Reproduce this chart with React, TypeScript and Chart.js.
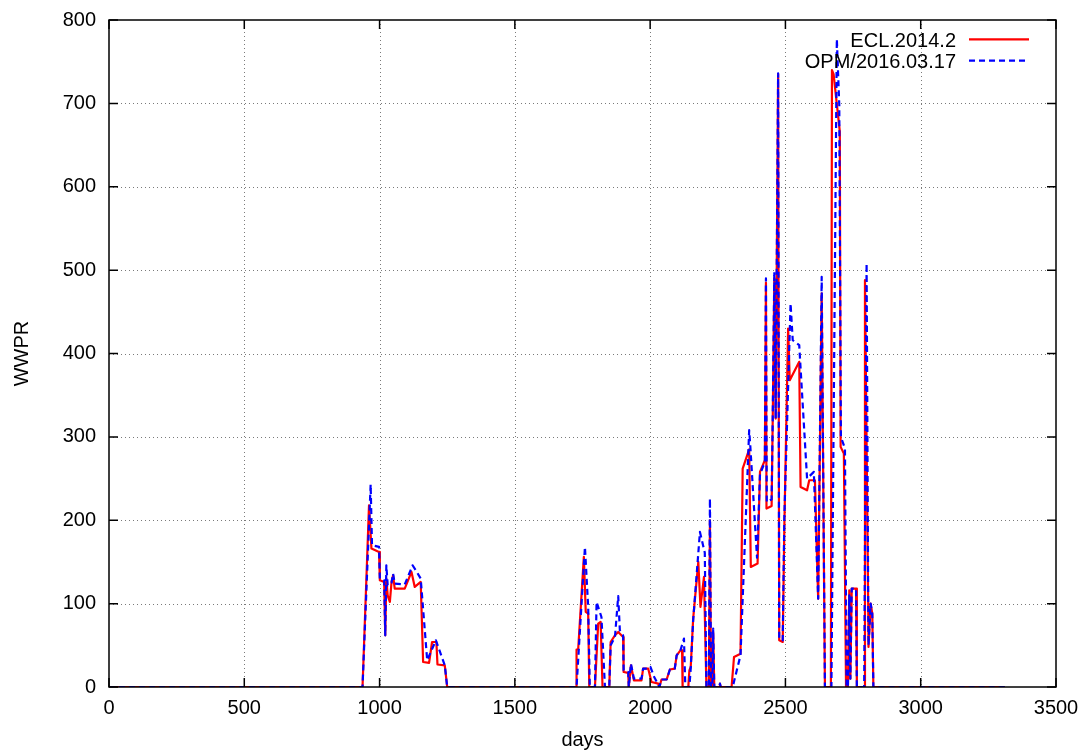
import React, { useEffect, useRef } from 'react';
import { Chart, registerables } from 'chart.js';

Chart.register(...registerables);

// ---- data ----
const seriesLabels = ['ECL.2014.2', 'OPM/2016.03.17'];

const eclDays = [
  0, 937, 961, 970, 998, 1001, 1017, 1021, 1025, 1030, 1038, 1044, 1050, 1056, 1093, 1118, 1130, 1152, 1161, 1183,
  1194, 1210, 1214, 1241, 1250, 1726, 1728, 1734, 1755, 1762, 1771, 1775, 1796, 1808, 1817, 1824, 1849, 1854, 1870,
  1882, 1900, 1902, 1919, 1921, 1929, 1940, 1968, 1974, 1993, 2005, 2030, 2034, 2042, 2061, 2073, 2091, 2098, 2112,
  2118, 2120, 2141, 2145, 2150, 2159, 2178, 2186, 2199, 2208, 2217, 2221, 2225, 2230, 2233, 2237, 2255, 2258, 2261,
  2301, 2310, 2334, 2342, 2366, 2372, 2397, 2406, 2424, 2428, 2430, 2449, 2453, 2459, 2464, 2473, 2477, 2490, 2496,
  2510, 2516, 2551, 2556, 2580, 2588, 2609, 2621, 2634, 2646, 2668, 2672, 2678, 2701, 2704, 2716, 2724, 2731, 2736,
  2740, 2745, 2761, 2764, 2791, 2794, 2806, 2807, 2815, 2821, 2825, 3311,
];
const eclValues = [
  0, 0, 218, 166, 162, 128, 126, 62, 130, 110, 102, 125, 134, 118, 118, 138, 120, 126, 30, 29,
  54, 54, 27, 26, 0, 0, 45, 45, 156, 90, 88, 0, 0, 76, 78, 0, 0, 54, 62,
  66, 60, 18, 17, 0, 26, 8, 8, 22, 22, 6, 4, 0, 9, 9, 21, 22, 38, 44,
  44, 0, 0, 20, 24, 82, 150, 96, 132, 0, 0, 200, 0, 0, 66, 0, 0, 4, 0,
  0, 36, 40, 262, 285, 144, 148, 258, 272, 485, 214, 217, 320, 490, 322, 735, 56, 54, 192,
  430, 368, 390, 240, 236, 248, 248, 106, 472, 0, 0, 740, 735, 666, 288, 280, 0, 0, 116,
  10, 118, 118, 0, 0, 488, 96, 48, 100, 88, 0, 0,
];

const opmDays = [
  0, 937, 967, 972, 998, 1001, 1017, 1021, 1025, 1030, 1044, 1050, 1056, 1093, 1122, 1134, 1152, 1176, 1208, 1241,
  1250, 1728, 1759, 1771, 1777, 1796, 1802, 1820, 1833, 1849, 1854, 1870, 1882, 1888, 1900, 1902, 1919, 1921, 1929,
  1940, 1968, 1974, 1993, 2001, 2015, 2034, 2042, 2061, 2073, 2091, 2098, 2112, 2125, 2130, 2145, 2150, 2159, 2184,
  2202, 2208, 2217, 2221, 2225, 2230, 2233, 2237, 2255, 2258, 2261, 2305, 2334, 2366, 2370, 2395, 2406, 2424, 2428,
  2431, 2449, 2453, 2459, 2464, 2473, 2477, 2490, 2496, 2519, 2527, 2551, 2580, 2605, 2621, 2634, 2646, 2670, 2690,
  2699, 2705, 2720, 2726, 2731, 2736, 2740, 2745, 2761, 2764, 2791, 2800, 2806, 2807, 2815, 2821, 2825, 3311,
];
const opmValues = [
  0, 0, 243, 170, 168, 130, 128, 62, 146, 122, 125, 136, 124, 123, 146, 140, 130, 32, 56, 26,
  0, 0, 168, 96, 0, 0, 102, 84, 0, 0, 50, 60, 109, 68, 62, 20, 18, 0, 28,
  10, 10, 22, 22, 24, 12, 0, 9, 9, 21, 22, 38, 44, 58, 0, 0, 22, 80, 186,
  161, 0, 0, 226, 0, 0, 70, 0, 0, 4, 0, 0, 38, 308, 290, 155, 255, 270, 490,
  222, 225, 320, 498, 322, 736, 58, 56, 204, 460, 416, 410, 250, 258, 106, 492, 0, 0, 777,
  698, 300, 286, 0, 0, 110, 10, 118, 118, 0, 0, 508, 96, 50, 100, 88, 0, 0,
];

const xTicks = [0, 500, 1000, 1500, 2000, 2500, 3000, 3500];
const yTicks = [0, 100, 200, 300, 400, 500, 600, 700, 800];

const FONT = '"Liberation Sans", Arial, Helvetica, sans-serif';

export default function App() {
  const ref = useRef<HTMLCanvasElement>(null);

  useEffect(() => {
    const canvas = ref.current;
    if (!canvas) return;

    const frame = {
      id: 'gnuplotFrame',
      beforeDatasetsDraw(chart: any) {
        const { ctx, chartArea: a, scales } = chart;
        const xs = scales.x;
        const ys = scales.y;
        ctx.save();
        ctx.strokeStyle = '#7a7a7a';
        ctx.lineWidth = 1;
        ctx.setLineDash([1, 3]);
        for (const t of xTicks) {
          if (t === xTicks[0] || t === xTicks[xTicks.length - 1]) continue;
          const px = Math.round(xs.getPixelForValue(t)) + 0.5;
          ctx.beginPath();
          ctx.moveTo(px, a.top);
          ctx.lineTo(px, a.bottom);
          ctx.stroke();
        }
        for (const t of yTicks) {
          if (t === yTicks[0] || t === yTicks[yTicks.length - 1]) continue;
          const py = Math.round(ys.getPixelForValue(t)) + 0.5;
          ctx.beginPath();
          ctx.moveTo(a.left, py);
          ctx.lineTo(a.right, py);
          ctx.stroke();
        }
        ctx.restore();
      },
      afterDatasetsDraw(chart: any) {
        const { ctx, chartArea: a, scales } = chart;
        const xs = scales.x;
        const ys = scales.y;
        ctx.save();
        ctx.setLineDash([]);
        ctx.strokeStyle = '#000';
        ctx.lineWidth = 1.5;
        ctx.strokeRect(a.left, a.top, a.right - a.left, a.bottom - a.top);
        const tl = 9;
        ctx.beginPath();
        for (const t of xTicks) {
          const px = xs.getPixelForValue(t);
          ctx.moveTo(px, a.bottom);
          ctx.lineTo(px, a.bottom - tl);
          ctx.moveTo(px, a.top);
          ctx.lineTo(px, a.top + tl);
        }
        for (const t of yTicks) {
          const py = ys.getPixelForValue(t);
          ctx.moveTo(a.left, py);
          ctx.lineTo(a.left + tl, py);
          ctx.moveTo(a.right, py);
          ctx.lineTo(a.right - tl, py);
        }
        ctx.stroke();

        // legend
        ctx.font = `20px ${FONT}`;
        ctx.fillStyle = '#000';
        ctx.textAlign = 'right';
        ctx.textBaseline = 'alphabetic';
        const textRight = a.right - 100;
        const sx0 = a.right - 87;
        const sx1 = a.right - 27;
        ctx.fillText(seriesLabels[0], textRight, a.top + 26.7);
        ctx.fillText(seriesLabels[1], textRight, a.top + 48.3);
        ctx.lineWidth = 2.2;
        ctx.strokeStyle = '#ff0000';
        ctx.beginPath();
        ctx.moveTo(sx0, a.top + 19.3);
        ctx.lineTo(sx1, a.top + 19.3);
        ctx.stroke();
        ctx.strokeStyle = '#0000ff';
        ctx.setLineDash([6, 4]);
        ctx.beginPath();
        ctx.moveTo(sx0, a.top + 40.7);
        ctx.lineTo(sx1, a.top + 40.7);
        ctx.stroke();
        ctx.restore();
      },
    };

    const chart = new Chart(canvas, {
      type: 'line',
      data: {
        datasets: [
          {
            label: seriesLabels[0],
            data: eclDays.map((d, i) => ({ x: d, y: eclValues[i] })),
            borderColor: '#ff0000',
            borderWidth: 2.2,
            pointRadius: 0,
            tension: 0,
            fill: false,
            borderJoinStyle: 'round',
            order: 2,
          },
          {
            label: seriesLabels[1],
            data: opmDays.map((d, i) => ({ x: d, y: opmValues[i] })),
            borderColor: '#0000ff',
            borderWidth: 2.2,
            borderDash: [6, 4],
            pointRadius: 0,
            tension: 0,
            fill: false,
            borderJoinStyle: 'round',
            order: 1,
          },
        ],
      },
      options: {
        animation: false,
        responsive: false,
        devicePixelRatio: 1,
        layout: { padding: { top: 20, right: 30, left: 0, bottom: 0 } },
        plugins: { legend: { display: false }, tooltip: { enabled: false } },
        scales: {
          x: {
            type: 'linear',
            min: 0,
            max: 3500,
            afterBuildTicks: (s: any) => {
              s.ticks = xTicks.map((v) => ({ value: v }));
            },
            afterFit: (s: any) => {
              s.height = 68;
              s.paddingLeft = 0;
              s.paddingRight = 0;
            },
            grid: { display: false, drawTicks: false },
            border: { display: false },
            ticks: {
              color: '#000',
              font: { family: FONT, size: 20 },
              padding: 9,
              maxRotation: 0,
              autoSkip: false,
              callback: (v: any) => String(v),
            },
            title: {
              display: true,
              text: 'days',
              color: '#000',
              font: { family: FONT, size: 20 },
              padding: { top: 0, bottom: 3 },
            },
          },
          y: {
            type: 'linear',
            min: 0,
            max: 800,
            afterBuildTicks: (s: any) => {
              s.ticks = yTicks.map((v) => ({ value: v }));
            },
            afterFit: (s: any) => {
              s.width = 109;
              s.paddingTop = 0;
              s.paddingBottom = 0;
            },
            grid: { display: false, drawTicks: false },
            border: { display: false },
            ticks: {
              color: '#000',
              font: { family: FONT, size: 20 },
              padding: 13,
              autoSkip: false,
              callback: (v: any) => String(v),
            },
            title: {
              display: true,
              text: 'WWPR',
              color: '#000',
              font: { family: FONT, size: 20 },
              padding: { top: 10, bottom: 0 },
            },
          },
        },
      },
      plugins: [frame],
    } as any);

    return () => chart.destroy();
  }, []);

  return (
    <div style={{ position: 'absolute', left: 0, top: 0, width: 1086, height: 755, background: '#fff' }}>
      <canvas ref={ref} width={1086} height={755} style={{ display: 'block', width: 1086, height: 755 }} />
    </div>
  );
}
